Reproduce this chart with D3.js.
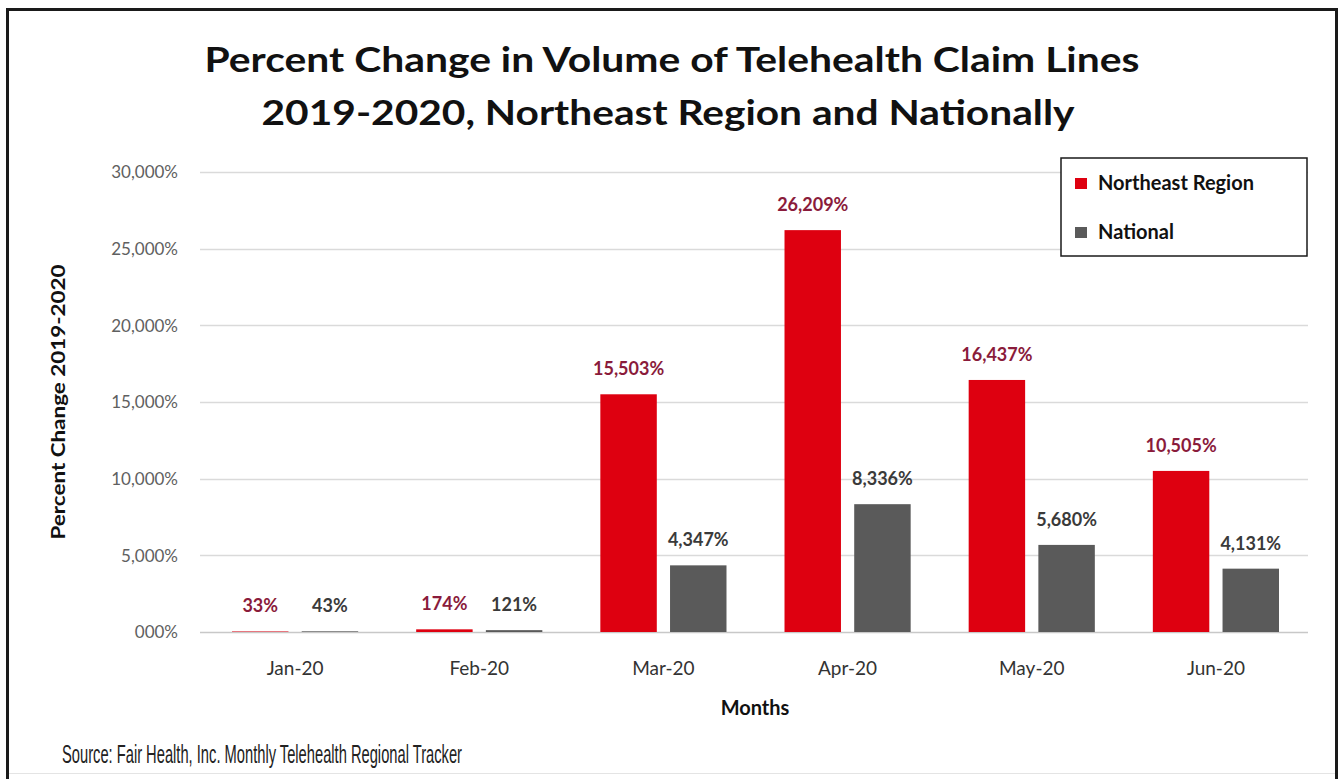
<!DOCTYPE html>
<html>
<head>
<meta charset="utf-8">
<script src="https://cdn.jsdelivr.net/npm/d3@7"></script>
<style>
  html, body { margin: 0; padding: 0; background: #fff; }
  svg { display: block; }
</style>
</head>
<body>
<svg id="chart" width="1340" height="779"></svg>
<script>
// Monthly percent change in telehealth claim lines, 2019 vs 2020
const months = ["Jan-20", "Feb-20", "Mar-20", "Apr-20", "May-20", "Jun-20"];
const northeast = [33, 174, 15503, 26209, 16437, 10505];
const national = [43, 121, 4347, 8336, 5680, 4131];
const seriesNames = ["Northeast Region", "National"];
const yTickValues = [0, 5000, 10000, 15000, 20000, 25000, 30000];
const yTickLabels = ["000%", "5,000%", "10,000%", "15,000%", "20,000%", "25,000%", "30,000%"];

const colors = { "Northeast Region": "#de0010", "National": "#5a5a5a" };
const labelColors = { "Northeast Region": "#8a1b3b", "National": "#3a3a3a" };
const FONT = "Lato, 'Open Sans', sans-serif";

const svg = d3.select("#chart");

// Outer frame (left, top, right edges)
svg.append("path")
  .attr("d", "M7.5,779 V9.5 H1336.5 V779")
  .attr("fill", "none").attr("stroke", "#1a1a1a").attr("stroke-width", 3);
svg.append("line")
  .attr("x1", 9).attr("x2", 1335).attr("y1", 773.5).attr("y2", 773.5)
  .attr("stroke", "#e4e4e4").attr("stroke-width", 1);

const plot = { left: 203, right: 1308, top: 172, bottom: 632 };

const x0 = d3.scaleBand().domain(months).range([plot.left, plot.right]).paddingInner(0.315).paddingOuter(0.1575);
const x1 = d3.scaleBand().domain(seriesNames).range([0, x0.bandwidth()]).paddingInner(0.19);
const y = d3.scaleLinear().domain([0, 30000]).range([plot.bottom, plot.top]);

// Title
const title = svg.append("g").attr("font-family", FONT).attr("font-weight", 700)
  .attr("font-size", 34).attr("fill", "#111").attr("text-anchor", "middle");
title.append("text").attr("x", 672).attr("y", 72)
  .attr("textLength", 935).attr("lengthAdjust", "spacingAndGlyphs")
  .text("Percent Change in Volume of Telehealth Claim Lines");
title.append("text").attr("x", 668).attr("y", 125)
  .attr("textLength", 813).attr("lengthAdjust", "spacingAndGlyphs")
  .text("2019-2020, Northeast Region and Nationally");

// Gridlines
svg.append("g").selectAll("line").data(yTickValues).join("line")
  .attr("x1", plot.left - 3).attr("x2", plot.right)
  .attr("y1", d => Math.round(y(d)) + 0.5).attr("y2", d => Math.round(y(d)) + 0.5)
  .attr("stroke", d => d === 0 ? "#c8c8c8" : "#dadada").attr("stroke-width", 1.5);

// Y axis labels
const yAxis = d3.axisLeft(y).tickValues(yTickValues)
  .tickFormat((d, i) => yTickLabels[i]).tickSize(0).tickPadding(0);
const yg = svg.append("g").attr("transform", `translate(178,0)`).call(yAxis);
yg.select(".domain").remove();
yg.selectAll("text").attr("font-family", FONT).attr("font-size", 17)
  .attr("fill", "#606060").attr("dy", "0.35em");

// Y axis title
svg.append("text")
  .attr("transform", "translate(65,402) rotate(-90)")
  .attr("text-anchor", "middle").attr("font-family", FONT).attr("font-weight", 700)
  .attr("font-size", 18).attr("fill", "#111")
  .attr("textLength", 275).attr("lengthAdjust", "spacingAndGlyphs")
  .text("Percent Change 2019-2020");

// X axis labels
const xAxis = d3.axisBottom(x0).tickSize(0).tickPadding(0);
const xg = svg.append("g").attr("transform", `translate(0,${plot.bottom})`).call(xAxis);
xg.select(".domain").remove();
xg.selectAll("text").attr("font-family", FONT).attr("font-size", 19)
  .attr("fill", "#333").attr("dy", null).attr("y", 43);

svg.append("text").attr("x", 755).attr("y", 715).attr("text-anchor", "middle")
  .attr("font-family", FONT).attr("font-weight", 700).attr("font-size", 20).attr("fill", "#111")
  .text("Months");

// Bars and value labels
const rows = months.map((m, i) => ({
  month: m,
  values: [
    { key: "Northeast Region", value: northeast[i] },
    { key: "National", value: national[i] }
  ]
}));

const groups = svg.append("g").selectAll("g").data(rows).join("g")
  .attr("transform", d => `translate(${x0(d.month)},0)`);

groups.selectAll("rect").data(d => d.values).join("rect")
  .attr("x", d => x1(d.key))
  .attr("width", x1.bandwidth())
  .attr("y", d => y(d.value))
  .attr("height", d => y(0) - y(d.value))
  .attr("fill", d => colors[d.key]);

groups.selectAll("text").data(d => d.values).join("text")
  .attr("x", d => x1(d.key) + x1.bandwidth() / 2)
  .attr("y", d => y(d.value) - 19)
  .attr("text-anchor", "middle")
  .attr("font-family", FONT).attr("font-weight", 700).attr("font-size", 18)
  .attr("fill", d => labelColors[d.key])
  .text(d => d3.format(",")(d.value) + "%");

// Legend
const legend = svg.append("g");
legend.append("rect").attr("x", 1061).attr("y", 158).attr("width", 246).attr("height", 98)
  .attr("fill", "#fff").attr("stroke", "#1a1a1a").attr("stroke-width", 1.5);
const items = legend.selectAll("g").data(seriesNames).join("g")
  .attr("transform", (d, i) => `translate(1075,${i === 0 ? 178 : 227})`);
items.append("rect").attr("width", 12).attr("height", 11).attr("fill", d => colors[d]);
items.append("text").attr("x", 23).attr("y", 12)
  .attr("font-family", FONT).attr("font-weight", 700).attr("font-size", 20).attr("fill", "#111")
  .text(d => d);

// Source note
svg.append("text").attr("x", 62).attr("y", 763)
  .attr("font-family", "'Liberation Sans Narrow', 'Liberation Sans', Arial, sans-serif")
  .attr("font-size", 25).attr("fill", "#222")
  .attr("textLength", 400).attr("lengthAdjust", "spacingAndGlyphs")
  .text("Source: Fair Health, Inc. Monthly Telehealth Regional Tracker");
</script>
</body>
</html>
